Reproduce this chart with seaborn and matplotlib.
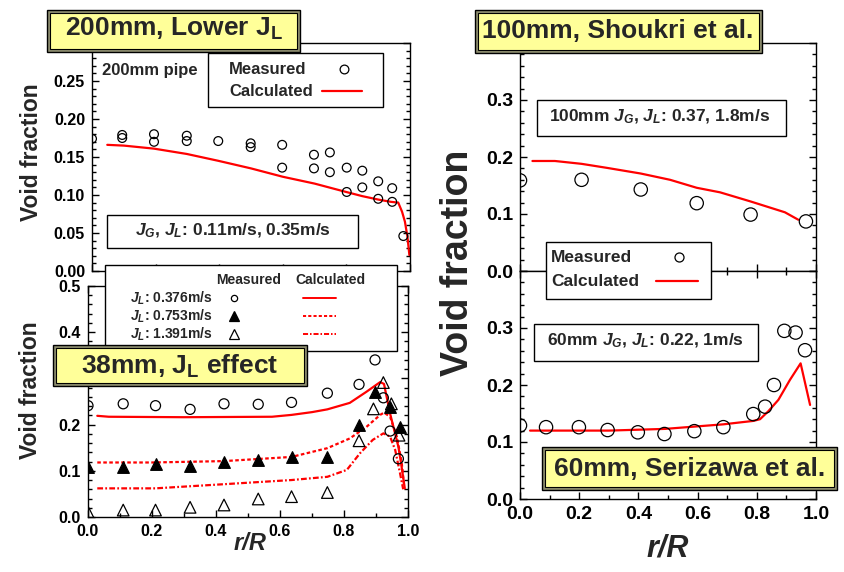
import numpy as np
import pandas as pd
import matplotlib
matplotlib.use("Agg")
import matplotlib.pyplot as plt
import seaborn as sns
from matplotlib.patches import Rectangle
from matplotlib.ticker import MultipleLocator, FormatStrFormatter, FixedLocator, FixedFormatter

# ---------------- data ----------------
# 200 mm pipe (top-left)
x200_meas = [0.0, 0.095, 0.095, 0.195, 0.195, 0.298, 0.298, 0.397, 0.499, 0.499, 0.598, 0.598,
             0.698, 0.698, 0.748, 0.748, 0.801, 0.801, 0.850, 0.850, 0.900, 0.900, 0.944, 0.944, 0.979]
y200_meas = [0.174, 0.179, 0.175, 0.180, 0.170, 0.178, 0.171, 0.171, 0.168, 0.163, 0.166, 0.136,
             0.153, 0.135, 0.156, 0.130, 0.136, 0.104, 0.132, 0.110, 0.118, 0.095, 0.109, 0.091, 0.046]
x200_calc = [0.048, 0.1, 0.195, 0.298, 0.397, 0.5, 0.6, 0.7, 0.79, 0.85, 0.9, 0.94, 0.963, 0.975,
             0.984, 0.992, 0.998]
y200_calc = [0.166, 0.165, 0.161, 0.154, 0.145, 0.135, 0.124, 0.115, 0.105, 0.0985, 0.094, 0.091,
             0.090, 0.078, 0.065, 0.045, 0.021]

# 38 mm pipe, JL effect (bottom-left)
x38_jl1_meas = [0.0, 0.11, 0.211, 0.319, 0.425, 0.532, 0.636, 0.748, 0.847, 0.897, 0.923, 0.944, 0.970]
y38_jl1_meas = [0.241, 0.245, 0.241, 0.233, 0.245, 0.244, 0.248, 0.268, 0.287, 0.340, 0.258, 0.186, 0.126]
x38_jl2_meas = [0.0, 0.11, 0.211, 0.319, 0.425, 0.532, 0.636, 0.748, 0.847, 0.897, 0.944, 0.975]
y38_jl2_meas = [0.109, 0.109, 0.115, 0.111, 0.118, 0.123, 0.129, 0.130, 0.199, 0.270, 0.239, 0.194]
x38_jl3_meas = [0.0, 0.11, 0.211, 0.319, 0.425, 0.532, 0.636, 0.748, 0.847, 0.892, 0.923, 0.948, 0.972]
y38_jl3_meas = [0.011, 0.015, 0.015, 0.021, 0.026, 0.039, 0.044, 0.053, 0.165, 0.234, 0.291, 0.245, 0.177]

x38_jl1_calc = [0.029, 0.065, 0.3, 0.575, 0.636, 0.70, 0.748, 0.818, 0.87, 0.913, 0.925, 0.944, 0.97, 0.98, 0.99]
y38_jl1_calc = [0.219, 0.217, 0.216, 0.217, 0.221, 0.227, 0.233, 0.247, 0.271, 0.292, 0.288, 0.224, 0.152, 0.109, 0.062]
x38_jl2_calc = [0.029, 0.2, 0.425, 0.636, 0.748, 0.818, 0.87, 0.913, 0.925, 0.944, 0.965, 0.98, 0.988]
y38_jl2_calc = [0.118, 0.118, 0.121, 0.130, 0.149, 0.170, 0.195, 0.221, 0.226, 0.217, 0.174, 0.120, 0.066]
x38_jl3_calc = [0.029, 0.21, 0.425, 0.636, 0.748, 0.809, 0.85, 0.89, 0.923, 0.944, 0.96, 0.975, 0.985]
y38_jl3_calc = [0.062, 0.062, 0.071, 0.080, 0.087, 0.102, 0.138, 0.167, 0.181, 0.174, 0.145, 0.095, 0.060]
jl_labels = ["0.376m/s", "0.753m/s", "1.391m/s"]

# 100 mm, Shoukri et al. (top-right)
x100_meas = [0.0, 0.208, 0.408, 0.597, 0.779, 0.966]
y100_meas = [0.159, 0.160, 0.143, 0.119, 0.099, 0.087]
x100_calc = [0.042, 0.118, 0.208, 0.293, 0.408, 0.507, 0.597, 0.676, 0.779, 0.895, 0.940]
y100_calc = [0.193, 0.193, 0.188, 0.181, 0.171, 0.160, 0.146, 0.138, 0.122, 0.103, 0.090]

# 60 mm, Serizawa et al. (bottom-right)
x60_meas = [0.0, 0.088, 0.199, 0.296, 0.398, 0.488, 0.589, 0.687, 0.788, 0.828, 0.858, 0.893, 0.931, 0.963]
y60_meas = [0.129, 0.126, 0.126, 0.121, 0.117, 0.114, 0.119, 0.126, 0.149, 0.162, 0.200, 0.295, 0.292, 0.261]
x60_calc = [0.034, 0.3, 0.49, 0.687, 0.788, 0.811, 0.839, 0.873, 0.912, 0.948, 0.980]
y60_calc = [0.120, 0.120, 0.123, 0.131, 0.137, 0.140, 0.154, 0.174, 0.209, 0.238, 0.165]

# y tick labels (labels hidden behind the title boxes are left blank)
ytl_ticks = [0.0, 0.05, 0.10, 0.15, 0.20, 0.25, 0.30]
ytl_labels = ['0.00', '0.05', '0.10', '0.15', '0.20', '0.25', '']
ybl_ticks = [0.0, 0.1, 0.2, 0.3, 0.4, 0.5]
ybl_labels = ['0.0', '0.1', '0.2', '', '0.4', '0.5']
ytr_ticks = [0.0, 0.1, 0.2, 0.3, 0.4]
ytr_labels = ['0.0', '0.1', '0.2', '0.3', '']
ybr_labels = ['0.0', '0.1', '0.2', '0.3', '']

# ---------------- style ----------------
sns.set_style("ticks")
plt.rcParams['font.family'] = ['Liberation Sans', 'DejaVu Sans']
plt.rcParams['font.weight'] = 'bold'
plt.rcParams['mathtext.fontset'] = 'custom'
plt.rcParams['mathtext.rm'] = 'Liberation Sans:bold'
plt.rcParams['mathtext.it'] = 'Liberation Sans:italic:bold'
plt.rcParams['mathtext.bf'] = 'Liberation Sans:bold'
plt.rcParams['axes.linewidth'] = 1.0
plt.rcParams['axes.edgecolor'] = 'black'

W, H = 845, 572
fig = plt.figure(figsize=(W / 100, H / 100), dpi=100)
fig.patch.set_facecolor('white')


def px_axes(l, t, r, b):
    return fig.add_axes([l / W, 1 - b / H, (r - l) / W, (b - t) / H])


ax_tl = px_axes(92, 43, 410, 271)
ax_bl = px_axes(88, 286, 408, 517)
ax_tr = px_axes(520, 43, 816, 271)
ax_br = px_axes(520, 271, 816, 499)


def style(ax, ymax, yticks, ylabels, ymin, tsize, top, labelbottom):
    ax.set_xlim(0, 1)
    ax.set_ylim(0, ymax)
    ax.xaxis.set_major_locator(MultipleLocator(0.2))
    ax.xaxis.set_minor_locator(MultipleLocator(0.1))
    ax.xaxis.set_major_formatter(FormatStrFormatter('%.1f'))
    ax.yaxis.set_major_locator(FixedLocator(yticks))
    ax.yaxis.set_major_formatter(FixedFormatter(ylabels))
    ax.yaxis.set_minor_locator(MultipleLocator(ymin))
    ax.tick_params(which='both', direction='in', left=True, right=True, top=top,
                   bottom=True, width=1, labelsize=tsize, pad=5, colors='black',
                   labelbottom=labelbottom)
    ax.tick_params(which='major', length=5)
    ax.tick_params(which='minor', length=3)
    for s in ax.spines.values():
        s.set_visible(True)
        s.set_linewidth(1)
        s.set_color('black')
    ax.set_facecolor('white')


def circles(ax, x, y, s):
    sns.scatterplot(x=x, y=y, ax=ax, marker='o', s=s, facecolors='none',
                    edgecolor='black', linewidth=0.9, legend=False, zorder=3)


def calc_line(ax, x, y, ls='-'):
    sns.lineplot(x=x, y=y, ax=ax, color='#ff0000', linewidth=1.6, linestyle=ls,
                 estimator=None, sort=False, legend=False, zorder=2)


# top-left
calc_line(ax_tl, x200_calc, y200_calc)
circles(ax_tl, x200_meas, y200_meas, 40)
style(ax_tl, 0.30, ytl_ticks, ytl_labels, 0.01, 11.5, False, False)

# bottom-left
dash2 = (0, (1.6, 1.1))
dash3 = (0, (2.6, 1.0, 0.8, 1.0))
calc_line(ax_bl, x38_jl1_calc, y38_jl1_calc)
calc_line(ax_bl, x38_jl2_calc, y38_jl2_calc, dash2)
calc_line(ax_bl, x38_jl3_calc, y38_jl3_calc, dash3)
circles(ax_bl, x38_jl1_meas, y38_jl1_meas, 52)
sns.scatterplot(x=x38_jl2_meas, y=y38_jl2_meas, ax=ax_bl, marker='^', s=70,
                color='black', edgecolor='black', linewidth=0.9, legend=False, zorder=3)
sns.scatterplot(x=x38_jl3_meas, y=y38_jl3_meas, ax=ax_bl, marker='^', s=70,
                facecolors='none', edgecolor='black', linewidth=0.9, legend=False, zorder=3)
style(ax_bl, 0.5, ybl_ticks, ybl_labels, 0.02, 11.5, True, True)

# top-right
calc_line(ax_tr, x100_calc, y100_calc)
circles(ax_tr, x100_meas, y100_meas, 92)
style(ax_tr, 0.4, ytr_ticks, ytr_labels, 0.02, 14, False, False)

# bottom-right
calc_line(ax_br, x60_calc, y60_calc)
circles(ax_br, x60_meas, y60_meas, 92)
style(ax_br, 0.4, ytr_ticks, ybr_labels, 0.02, 14, True, True)

# axis labels
ax_tl.set_ylabel('Void fraction', fontsize=16.5, fontweight='bold', va='center')
ax_tl.yaxis.set_label_coords(-0.189, 0.52)
ax_bl.set_ylabel('Void fraction', fontsize=16.5, fontweight='bold', va='center')
ax_bl.yaxis.set_label_coords(-0.181, 0.55)
ax_tr.set_ylabel('Void fraction', fontsize=27, fontweight='bold', va='center')
ax_tr.yaxis.set_label_coords(-0.209, 0.035)
ax_br.set_ylabel('')
ax_tl.set_xlabel('')
ax_tr.set_xlabel('')
ax_bl.set_xlabel('r/R', fontsize=17, fontweight='bold', style='italic', va='center')
ax_bl.xaxis.set_label_coords(0.506, -0.115)
ax_br.set_xlabel('r/R', fontsize=22, fontweight='bold', style='italic', va='center')
ax_br.xaxis.set_label_coords(0.5, -0.215)

# ---------------- overlay (boxes, legends, titles) ----------------
ov = fig.add_axes([0, 0, 1, 1])
ov.set_xlim(0, W)
ov.set_ylim(H, 0)
ov.axis('off')
ov.set_zorder(10)


def box(x, y, w, h, lw=1.0):
    ov.add_patch(Rectangle((x, y), w, h, facecolor='white', edgecolor='black', lw=lw, zorder=1))


def title_box(x, y, w, h, text, cx, cy):
    ov.add_patch(Rectangle((x, y), w, h, facecolor='#8e8e70', edgecolor='black', lw=1.0, zorder=5))
    ov.add_patch(Rectangle((x + 3, y + 3), w - 6, h - 6, facecolor='#ffff99',
                           edgecolor='black', lw=0.8, zorder=6))
    ov.text(cx, cy, text, ha='center', va='center', fontsize=19, fontweight='bold', zorder=7)


# top-left annotations
ov.text(102, 70, '200mm pipe', ha='left', va='center', fontsize=12, fontweight='bold')
box(208, 53, 175, 54)
ov.text(229, 69, 'Measured', ha='left', va='center', fontsize=12, fontweight='bold')
ov.plot([344], [69], marker='o', ms=6.3, mfc='none', mec='black', mew=0.9, ls='none')
ov.text(229, 91, 'Calculated', ha='left', va='center', fontsize=12, fontweight='bold')
ov.plot([322, 362], [91, 91], color='#ff0000', lw=1.6)
box(107, 215, 251, 33)
ov.text(233, 231, r'$J_G$, $J_L$: 0.11m/s, 0.35m/s', ha='center', va='center',
        fontsize=12.5, fontweight='bold')

# bottom-left legend
box(105, 265, 292, 86)
ov.text(249, 280, 'Measured', ha='center', va='center', fontsize=10, fontweight='bold')
ov.text(330, 280, 'Calculated', ha='center', va='center', fontsize=10, fontweight='bold')
row_y = [298, 316, 334]
row_styles = ['-', dash2, dash3]
row_markers = [dict(marker='o', ms=4.5, mfc='none'), dict(marker='^', ms=7, mfc='black'),
               dict(marker='^', ms=7, mfc='none')]
for lab, yy, lsty, mk in zip(jl_labels, row_y, row_styles, row_markers):
    ov.text(213, yy, r'$J_L$: ' + lab, ha='right', va='center', fontsize=10, fontweight='bold')
    ov.plot([234], [yy], ls='none', mec='black', mew=0.9, **mk)
    ov.plot([303, 336], [yy, yy], color='#ff0000', lw=1.4, ls=lsty)

# right annotations
box(537, 100, 249, 36)
ov.text(660, 117, r'100mm $J_G$, $J_L$: 0.37, 1.8m/s', ha='center', va='center',
        fontsize=12.5, fontweight='bold')
box(546, 242, 165, 57)
ov.text(551, 258, 'Measured', ha='left', va='center', fontsize=12.5, fontweight='bold')
ov.plot([679], [257], marker='o', ms=6.5, mfc='none', mec='black', mew=0.9, ls='none')
ov.text(551, 281, 'Calculated', ha='left', va='center', fontsize=12.5, fontweight='bold')
ov.plot([656, 698], [281, 281], color='#ff0000', lw=1.6)
box(534, 324, 224, 37)
ov.text(645, 341, r'60mm $J_G$, $J_L$: 0.22, 1m/s', ha='center', va='center',
        fontsize=12.5, fontweight='bold')

# title boxes
title_box(47, 10, 253, 42, r'200mm, Lower J$_{\mathregular{L}}$', 174, 29)
title_box(53, 345, 254, 41, r'38mm, J$_{\mathregular{L}}$ effect', 180, 366)
title_box(475, 10, 287, 43, '100mm, Shoukri et al.', 618, 31)
title_box(542, 447, 295, 43, '60mm, Serizawa et al.', 690, 469)

fig.savefig('out.png', dpi=100, facecolor='white')
